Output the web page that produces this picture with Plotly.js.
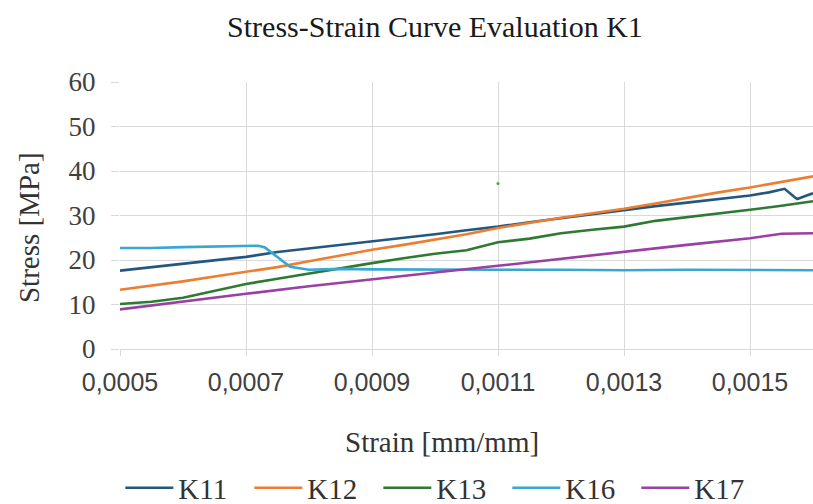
<!DOCTYPE html>
<html>
<head>
<meta charset="utf-8">
<script src="https://cdn.plot.ly/plotly-3.0.1.min.js"></script>
<style>html,body{margin:0;padding:0;background:#fff;}#chart{width:813px;height:504px;}</style>
</head>
<body>
<div id="chart"></div>
<script>
// Strain values (mm/mm) and stress series (MPa)
const strainK11 = [0.0005,0.00055,0.0006,0.00065,0.0007,0.00075,0.0008,0.00085,0.0009,0.00095,0.001,0.00105,0.0011,0.00115,0.0012,0.00125,0.0013,0.00135,0.0014,0.00145,0.0015,0.00153,0.001555,0.00157,0.001575,0.00159,0.0016];
const stressK11 = [17.6,18.4,19.2,19.9,20.7,21.8,22.6,23.3,24.2,25.0,25.8,26.7,27.5,28.5,29.4,30.3,31.3,32.1,32.9,33.7,34.5,35.2,36.0,34.2,33.7,34.5,35.0];

const strainK12 = [0.0005,0.00055,0.0006,0.00065,0.0007,0.00075,0.0008,0.00085,0.0009,0.00095,0.001,0.00105,0.0011,0.00115,0.0012,0.00125,0.0013,0.00135,0.0014,0.00145,0.0015,0.00155,0.0016];
const stressK12 = [13.3,14.2,15.2,16.3,17.4,18.4,19.7,21.0,22.3,23.4,24.6,25.8,27.2,28.4,29.5,30.5,31.5,32.7,34.0,35.2,36.3,37.5,38.8];

const strainK13 = [0.0005,0.00055,0.0006,0.00065,0.0007,0.00075,0.0008,0.00085,0.0009,0.00095,0.001,0.00105,0.0011,0.00115,0.0012,0.00125,0.0013,0.00135,0.0014,0.00145,0.0015,0.00155,0.0016];
const stressK13 = [10.1,10.6,11.5,13.0,14.6,15.8,17.0,18.2,19.3,20.4,21.4,22.2,24.0,24.8,26.0,26.8,27.5,28.8,29.6,30.5,31.3,32.2,33.2];

const strainK16 = [0.0005,0.00055,0.0006,0.00065,0.0007,0.00072,0.00073,0.00075,0.00077,0.0008,0.00085,0.0009,0.001,0.0011,0.0012,0.0013,0.0014,0.0015,0.0016];
const stressK16 = [22.7,22.7,22.9,23.0,23.1,23.2,22.8,20.6,18.5,17.8,18.0,17.9,17.8,17.8,17.8,17.7,17.8,17.8,17.7];

const strainK17 = [0.0005,0.0006,0.0007,0.0008,0.0009,0.001,0.0011,0.0012,0.0013,0.0014,0.0015,0.00155,0.0016];
const stressK17 = [8.9,10.7,12.4,14.1,15.7,17.2,18.7,20.3,21.9,23.4,24.9,25.9,26.0];

// stray single point visible in the reference
const strayStrain = [0.0011];
const strayStress = [37.2];

const names = ['K11','K12','K13','K16','K17'];
const colors = ['#23577f','#ed7d31','#2e7a32','#3aa6d2','#9a3fa3'];
const xs = [strainK11,strainK12,strainK13,strainK16,strainK17];
const ys = [stressK11,stressK12,stressK13,stressK16,stressK17];

const chartTitle = 'Stress-Strain Curve Evaluation K1';
const xTitle = 'Strain [mm/mm]';
const yTitle = 'Stress [MPa]';

const traces = names.map((n,i)=>({
  x: xs[i], y: ys[i], name: n, type:'scatter', mode:'lines',
  line:{color:colors[i], width:2.6, shape:'linear'}
}));
traces.push({x:strayStrain, y:strayStress, type:'scatter', mode:'markers',
  marker:{color:'#33b833', size:3}, showlegend:false, hoverinfo:'skip'});

const serif = 'Liberation Serif';
const sans = 'Liberation Sans';
const layout = {
  width:813, height:504,
  separators:', ',
  paper_bgcolor:'#ffffff', plot_bgcolor:'#ffffff',
  font:{family:serif, color:'#404040', size:18},
  margin:{l:120, r:0, t:82, b:155, autoexpand:false},
  title:{text:chartTitle, font:{family:serif, size:30, color:'#1a1a1a'},
         x:0.535, xref:'container', xanchor:'center', y:0.948, yref:'container', yanchor:'middle'},
  xaxis:{range:[0.0005,0.0016], tick0:0.0005, dtick:0.0002, tickformat:'.4f',
         showgrid:true, gridcolor:'#d9d9d9', gridwidth:1, zeroline:false,
         showline:true, linecolor:'#d9d9d9', ticks:'outside', ticklen:6, tickcolor:'#d9d9d9',
         ticklabelstandoff:5,
         tickfont:{family:sans, size:25, color:'#404040'}},
  yaxis:{range:[0,60], dtick:10, showgrid:true, gridcolor:'#d9d9d9', gridwidth:1, zeroline:false,
         showline:false, ticks:'outside', ticklen:8, tickcolor:'#d9d9d9',
         ticklabelstandoff:10,
         tickfont:{family:serif, size:27, color:'#404040'}},
  annotations:[
    {text:xTitle, xref:'paper', yref:'paper', x:0.4646, y:-0.348, xanchor:'center', yanchor:'middle',
     showarrow:false, font:{family:serif, size:29, color:'#333333'}},
    {text:yTitle, xref:'paper', yref:'paper', x:-0.1313, y:0.453, xanchor:'center', yanchor:'middle',
     textangle:-90, showarrow:false, font:{family:serif, size:29, color:'#333333'}}
  ],
  legend:{orientation:'h', xref:'container', x:0.148, xanchor:'left', y:-0.52, yanchor:'middle',
          font:{family:serif, size:29, color:'#333333'}, itemwidth:48, entrywidth:66, tracegroupgap:0},
  showlegend:true
};
Plotly.newPlot('chart', traces, layout, {staticPlot:true, displayModeBar:false});
</script>
</body>
</html>
